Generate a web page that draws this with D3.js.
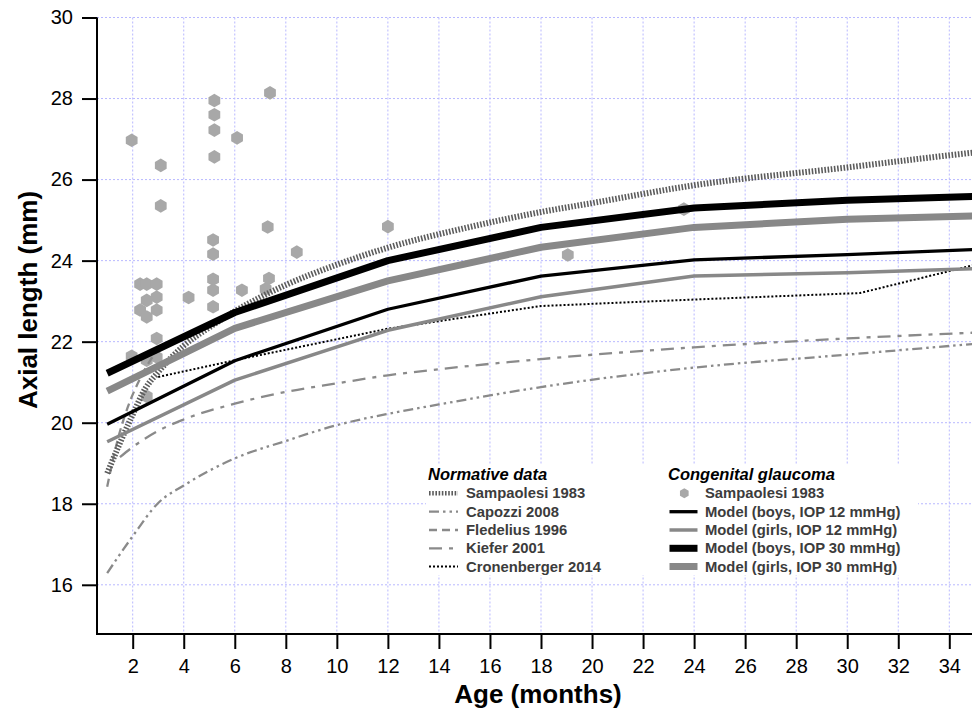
<!DOCTYPE html>
<html>
<head>
<meta charset="utf-8">
<script src="https://cdn.jsdelivr.net/npm/d3@7"></script>
<style>
  html, body { margin: 0; padding: 0; background: #fff; }
  svg { display: block; font-family: "Liberation Sans", Arial, sans-serif; }
</style>
</head>
<body>
<svg id="chart" width="972" height="714"></svg>
<script>
// ---------------- DATA ----------------
const xTicks = [2,4,6,8,10,12,14,16,18,20,22,24,26,28,30,32,34];
const yTicks = [16,18,20,22,24,26,28,30];

// Normative data
const sampNormAge = [1,1.5,2,2.5,3,4,5,6,8,10,12,15,18,20,24,30,34,35];
const sampNormAL  = [18.75,19.5,20.2,20.85,21.25,21.9,22.35,22.75,23.4,23.9,24.32,24.8,25.2,25.42,25.86,26.3,26.6,26.67];

const capozziAge = [1,2,3,4,6,8,10,12,14,18,24,30,36];
const capozziAL  = [16.29,17.2,18.02,18.45,19.12,19.55,19.94,20.22,20.45,20.88,21.36,21.68,22.0];

const fledeliusAge = [1,1.4,1.8,2.3,2.7,3];
const fledeliusAL  = [18.42,19.55,20.37,21.1,21.55,21.8];

const kieferAge = [1.5,2,3,4,6,8,10,12,14,18,24,30,36];
const kieferAL  = [19.15,19.4,19.8,20.08,20.47,20.76,20.97,21.17,21.32,21.57,21.86,22.08,22.25];

const cronAge = [3,6,12,18,24,30.5,36];
const cronAL  = [21.13,21.54,22.32,22.88,23.04,23.2,24.05];

// Congenital glaucoma: Sampaolesi 1983 patients
const glaucAge = [1.96,3.1,3.1,5.2,5.2,5.2,5.2,6.09,7.38,7.29,8.43,5.15,5.15,5.15,5.15,5.15,6.28,7.34,7.21,4.19,
                  2.29,2.55,2.94,2.94,2.55,2.29,2.94,2.55,2.94,1.96,2.55,2.94,2.55,12,19.05,23.6];
const glaucAL  = [26.97,26.35,25.35,27.95,27.6,27.22,26.56,27.03,28.14,24.83,24.21,24.51,24.16,23.54,23.27,22.86,23.27,23.56,23.3,23.09,
                  23.42,23.42,23.42,23.1,23.02,22.78,22.78,22.61,22.08,21.64,21.54,21.62,20.65,24.84,24.14,25.27];

// Model
const modelAge = [1,6,12,18,24,30,36];
const boys12  = [19.96,21.53,22.8,23.62,24.02,24.15,24.3];
const girls12 = [19.53,21.05,22.28,23.11,23.62,23.7,23.82];
const boys30  = [21.22,22.72,24.0,24.82,25.3,25.49,25.6];
const girls30 = [20.78,22.33,23.5,24.33,24.82,25.02,25.12];

(function(){
// ---------------- SCALES ----------------
const svg = d3.select("#chart");
const pLeft = 97, pBottom = 634, pTop = 17.5, pRight = 972;
const x = d3.scaleLinear().domain([2,34]).range([132.7,949.3]);
const y = d3.scaleLinear().domain([16,30]).range([584.8,17.5]);

svg.append("defs").append("clipPath").attr("id","plotclip")
  .append("rect").attr("x",pLeft).attr("y",pTop-2).attr("width",pRight-pLeft).attr("height",pBottom-pTop+2);

// ---------------- GRID ----------------
const gridColor = "#b8b8ff";
const grid = svg.append("g");
grid.selectAll("line.v").data(xTicks).join("line")
  .attr("x1",d=>x(d)).attr("x2",d=>x(d)).attr("y1",pTop).attr("y2",pBottom)
  .attr("stroke",gridColor).attr("stroke-width",1).attr("stroke-dasharray","2,2");
grid.selectAll("line.h").data(yTicks).join("line")
  .attr("x1",pLeft).attr("x2",pRight).attr("y1",d=>y(d)).attr("y2",d=>y(d))
  .attr("stroke",gridColor).attr("stroke-width",1).attr("stroke-dasharray","2,2");

// ---------------- MARKS ----------------
const plot = svg.append("g").attr("clip-path","url(#plotclip)");

function hexPath(r){
  const pts = d3.range(6).map(i=>{const a = Math.PI/3*i - Math.PI/2; return [r*Math.cos(a), r*Math.sin(a)];});
  return "M" + pts.map(p=>p.join(",")).join("L") + "Z";
}
const hex = hexPath(6.8);
plot.selectAll("path.pt").data(glaucAge.map((a,i)=>[a,glaucAL[i]])).join("path")
  .attr("d",hex).attr("transform",d=>`translate(${x(d[0])},${y(d[1])})`)
  .attr("fill","#a8a8a8");

function drawLine(ages, vals, style, curve){
  const gen = d3.line().x(d=>x(d[0])).y(d=>y(d[1])).curve(curve || d3.curveLinear);
  const p = plot.append("path").datum(ages.map((a,i)=>[a,vals[i]]))
    .attr("d",gen).attr("fill","none")
    .attr("stroke",style.color).attr("stroke-width",style.width)
    .attr("stroke-linejoin","round");
  if (style.dash) p.attr("stroke-dasharray",style.dash);
  return p;
}

const styles = {
  samp:  {color:"#5c5c5c", width:6, dash:"1.6,1.6"},
  capo:  {color:"#8a8a8a", width:2.3, dash:"10,4,2.5,4,2.5,4"},
  fled:  {color:"#8a8a8a", width:2.3, dash:"8,5"},
  kief:  {color:"#8a8a8a", width:2.3, dash:"13,7,4,7"},
  cron:  {color:"#000000", width:2, dash:"2,2"},
  b12:   {color:"#000000", width:3.3},
  g12:   {color:"#888888", width:3.5},
  b30:   {color:"#000000", width:7},
  g30:   {color:"#888888", width:7}
};

drawLine(capozziAge, capozziAL, styles.capo, d3.curveMonotoneX);
drawLine(kieferAge, kieferAL, styles.kief, d3.curveMonotoneX);
drawLine(fledeliusAge, fledeliusAL, styles.fled, d3.curveMonotoneX);
drawLine(cronAge, cronAL, styles.cron);
drawLine(sampNormAge, sampNormAL, styles.samp, d3.curveMonotoneX).attr("stroke-linejoin","miter");
drawLine(modelAge, girls12, styles.g12);
drawLine(modelAge, boys12, styles.b12);
drawLine(modelAge, girls30, styles.g30);
drawLine(modelAge, boys30, styles.b30);

// ---------------- AXES ----------------
const xAxis = svg.append("g").attr("transform",`translate(0,${pBottom})`)
  .call(d3.axisBottom(x).tickValues(xTicks).tickSize(15).tickPadding(10).tickFormat(d3.format("d")));
xAxis.select(".domain").remove();
xAxis.selectAll(".tick line").attr("stroke","#000").attr("stroke-width",2);
xAxis.selectAll(".tick text").attr("font-size",20).attr("fill","#000").attr("font-family","Liberation Sans, Arial, sans-serif");

const yAxis = svg.append("g").attr("transform",`translate(${pLeft},0)`)
  .call(d3.axisLeft(y).tickValues(yTicks).tickSize(15).tickPadding(9).tickFormat(d3.format("d")));
yAxis.select(".domain").remove();
yAxis.selectAll(".tick line").attr("stroke","#000").attr("stroke-width",2);
yAxis.selectAll(".tick text").attr("font-size",20).attr("fill","#000").attr("font-family","Liberation Sans, Arial, sans-serif");

svg.append("line").attr("x1",pLeft).attr("x2",pRight).attr("y1",pBottom).attr("y2",pBottom)
  .attr("stroke","#000").attr("stroke-width",2);
svg.append("line").attr("x1",pLeft).attr("x2",pLeft).attr("y1",pTop).attr("y2",pBottom+1)
  .attr("stroke","#000").attr("stroke-width",2);

svg.append("text").attr("x",538).attr("y",703).attr("text-anchor","middle")
  .attr("font-size",26).attr("font-weight","bold").text("Age (months)");
svg.append("text").attr("transform","translate(37,300) rotate(-90)").attr("text-anchor","middle")
  .attr("font-size",26).attr("font-weight","bold").text("Axial length (mm)");

// ---------------- LEGEND ----------------
const leg = svg.append("g");
leg.append("rect").attr("x",426).attr("y",464).attr("width",492).attr("height",111).attr("fill","#fff");

const rowY = [498.3,516.7,535,553.3,571.5];
leg.append("text").attr("x",428).attr("y",480).attr("font-size",16.5).attr("font-weight","bold")
  .attr("font-style","italic").text("Normative data");
leg.append("text").attr("x",668).attr("y",480).attr("font-size",16.5).attr("font-weight","bold")
  .attr("font-style","italic").text("Congenital glaucoma");

const normLeg = [
  {label:"Sampaolesi 1983", s:{...styles.samp, width:4.5}},
  {label:"Capozzi 2008", s:styles.capo},
  {label:"Fledelius 1996", s:styles.fled},
  {label:"Kiefer 2001", s:styles.kief},
  {label:"Cronenberger 2014", s:styles.cron}
];
normLeg.forEach((d,i)=>{
  const ly = rowY[i]-5;
  const l = leg.append("line").attr("x1",429).attr("x2",458).attr("y1",ly).attr("y2",ly)
    .attr("stroke",d.s.color).attr("stroke-width",d.s.width);
  if (d.s.dash) l.attr("stroke-dasharray",d.s.dash);
  leg.append("text").attr("x",466).attr("y",rowY[i]).attr("font-size",14.8).attr("font-weight","bold")
    .attr("fill","#3c3c3c").text(d.label);
});

const cgLeg = [
  {label:"Sampaolesi 1983", hex:true},
  {label:"Model (boys, IOP 12 mmHg)", s:styles.b12},
  {label:"Model (girls, IOP 12 mmHg)", s:styles.g12},
  {label:"Model (boys, IOP 30 mmHg)", s:styles.b30},
  {label:"Model (girls, IOP 30 mmHg)", s:styles.g30}
];
cgLeg.forEach((d,i)=>{
  const ly = rowY[i]-5;
  if (d.hex) {
    leg.append("path").attr("d",hexPath(5)).attr("transform",`translate(684.3,${ly})`).attr("fill","#a8a8a8");
  } else {
    leg.append("line").attr("x1",669.5).attr("x2",697.5).attr("y1",ly).attr("y2",ly)
      .attr("stroke",d.s.color).attr("stroke-width",d.s.width);
  }
  leg.append("text").attr("x",705).attr("y",rowY[i]).attr("font-size",14.8).attr("font-weight","bold")
    .attr("fill","#3c3c3c").text(d.label);
});
})();
</script>
</body>
</html>
